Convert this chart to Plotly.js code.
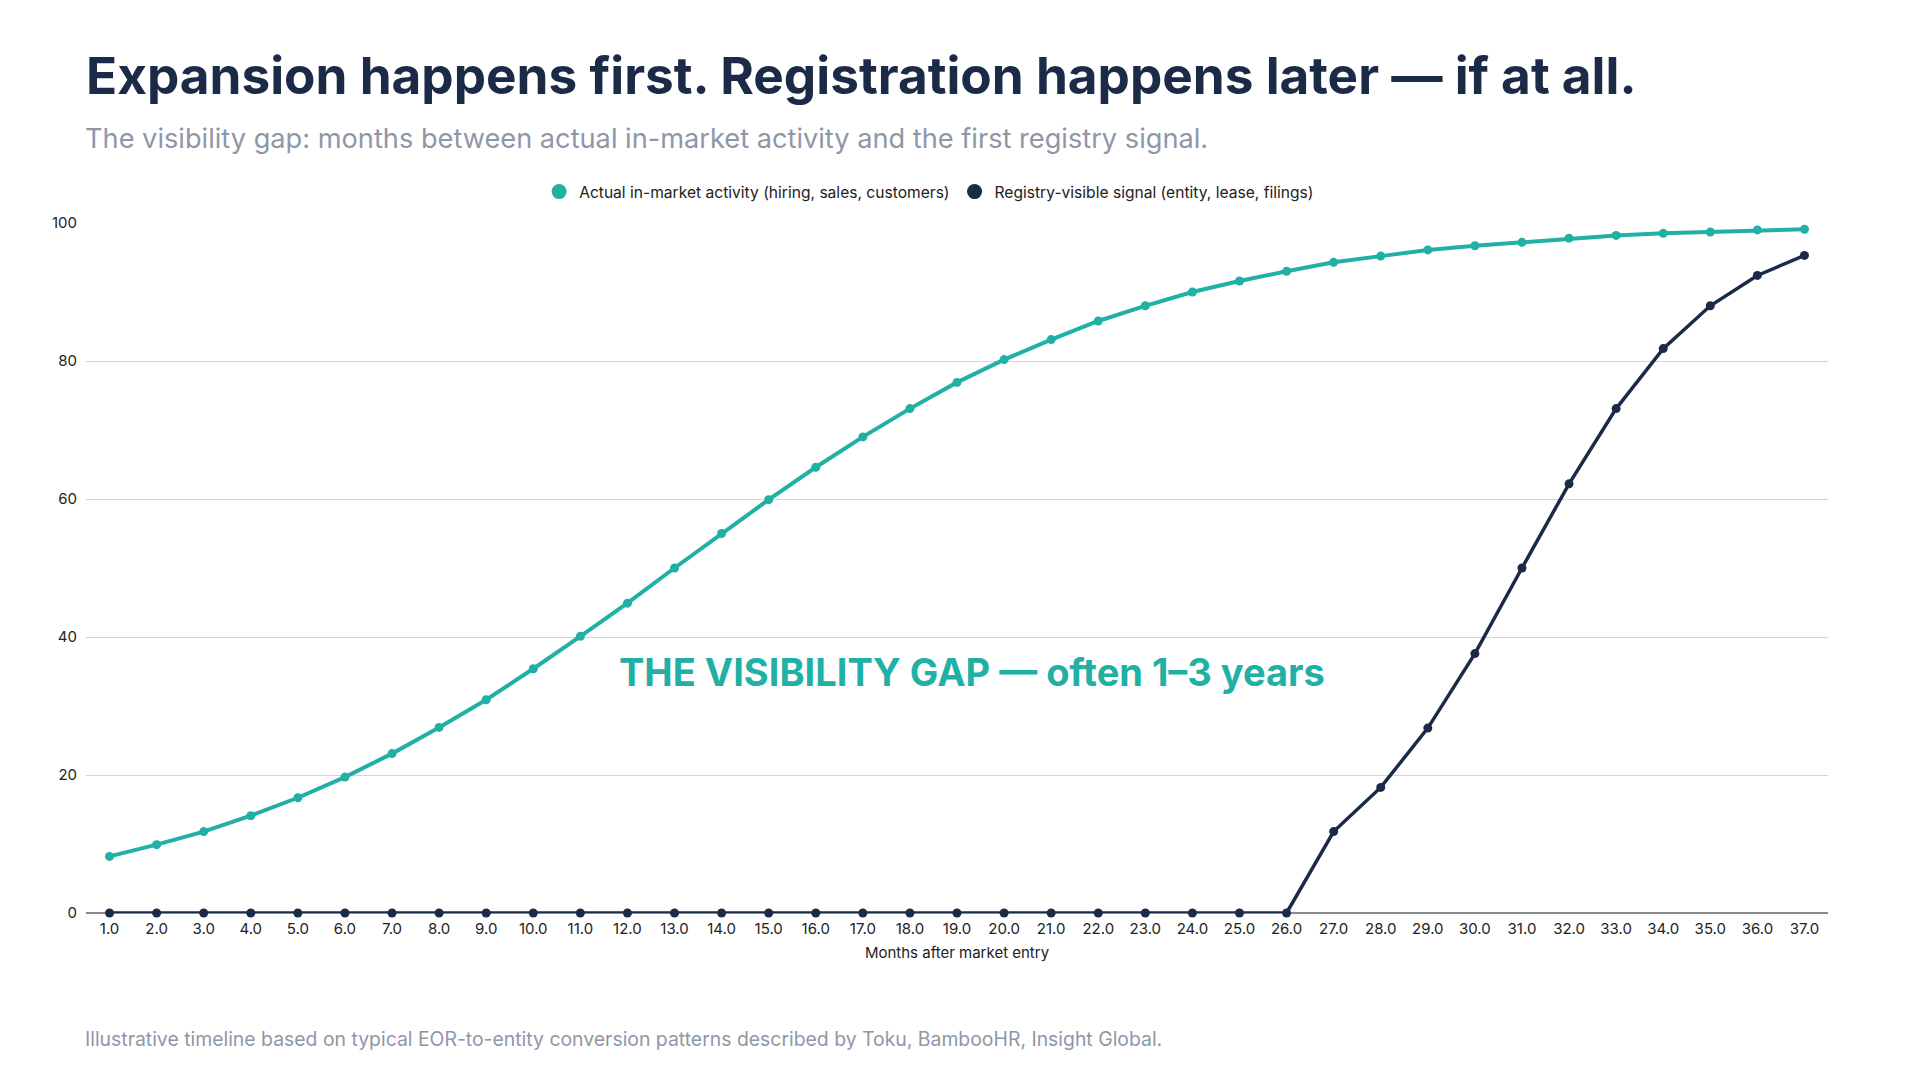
<!DOCTYPE html>
<html>
<head>
<meta charset="utf-8">
<script src="https://cdn.plot.ly/plotly-3.0.1.min.js"></script>
<style>html,body{margin:0;padding:0;background:#fff;}#chart{width:1920px;height:1080px;}</style>
</head>
<body>
<div id="chart"></div>
<script>
const months = [1,2,3,4,5,6,7,8,9,10,11,12,13,14,15,16,17,18,19,20,21,22,23,24,25,26,27,28,29,30,31,32,33,34,35,36,37];
const activity = [8.2, 9.9, 11.8, 14.1, 16.7, 19.7, 23.1, 26.9, 30.9, 35.4, 40.1, 44.9, 50.0, 55.0, 59.9, 64.6, 69.0, 73.1, 76.9, 80.2, 83.1, 85.8, 88.0, 90.0, 91.6, 93.0, 94.3, 95.2, 96.1, 96.7, 97.2, 97.8, 98.2, 98.5, 98.7, 99.0, 99.1];
const registry = [0,0,0,0,0,0,0,0,0,0,0,0,0,0,0,0,0,0,0,0,0,0,0,0,0,0, 11.8, 18.2, 26.8, 37.6, 50.0, 62.2, 73.1, 81.8, 88.0, 92.4, 95.3];
const seriesNames = ["Actual in-market activity (hiring, sales, customers)", "Registry-visible signal (entity, lease, filings)"];
const tickLabels = months.map(m => m.toFixed(1));

const TEAL = "#20b0a5";
const NAVY = "#1b2b47";
const FONT = "Inter, 'Noto Sans', sans-serif";

const traces = [
  {x: months, y: activity, type: "scatter", mode: "lines+markers", name: seriesNames[0], showlegend: false,
   line: {color: TEAL, width: 4}, marker: {color: TEAL, size: 9}, cliponaxis: false},
  {x: months, y: registry, type: "scatter", mode: "lines+markers", name: seriesNames[1], showlegend: false,
   line: {color: NAVY, width: 3.5}, marker: {color: NAVY, size: 9}, cliponaxis: false},
  {x: [null], y: [null], type: "scatter", mode: "markers", name: seriesNames[0], marker: {color: TEAL, size: 15}},
  {x: [null], y: [null], type: "scatter", mode: "markers", name: seriesNames[1], marker: {color: NAVY, size: 15}}
];

const layout = {
  width: 1920, height: 1080,
  paper_bgcolor: "#fff", plot_bgcolor: "#fff",
  margin: {l: 86, r: 92, t: 223, b: 166.5},
  font: {family: FONT, color: "#222", size: 15},
  title: {text: "Expansion happens first. Registration happens later — if at all.",
          font: {family: FONT, size: 51.3, color: NAVY, weight: 700},
          x: 86/1920, xanchor: "left", xref: "container", y: 1 - 76/1080, yanchor: "middle", yref: "container"},
  showlegend: true,
  legend: {orientation: "h", x: 0.484, xanchor: "center", y: 1.045, yanchor: "middle",
           font: {family: FONT, size: 15.6, color: "#222"}, itemwidth: 30, bgcolor: "rgba(0,0,0,0)"},
  xaxis: {type: "linear", range: [0.5, 37.5], tickmode: "array", tickvals: months, ticktext: tickLabels,
          showgrid: false, zeroline: false, showline: false, ticks: "", tickfont: {size: 15, color: "#222"},
          ticklabelstandoff: 5,
          title: {text: "Months after market entry", font: {size: 15, color: "#222"}, standoff: 10}},
  yaxis: {range: [0, 100], tickvals: [0,20,40,60,80,100], showgrid: true, gridcolor: "#d4d4d4", gridwidth: 1,
          zeroline: true, zerolinecolor: "#8a8a8a", zerolinewidth: 1.5, showline: false, ticks: "",
          tickfont: {size: 15, color: "#222"}, ticklabelstandoff: 8},
  annotations: [
    {text: "The visibility gap: months between actual in-market activity and the first registry signal.",
     xref: "paper", yref: "paper", x: 0, xshift: -3, y: 1.123, xanchor: "left", yanchor: "middle", showarrow: false,
     font: {family: FONT, size: 27.2, color: "#8e97a8"}},
    {text: "THE VISIBILITY GAP — often 1–3 years",
     xref: "paper", yref: "paper", x: 0.5086, y: 0.3497, xanchor: "center", yanchor: "middle", showarrow: false,
     font: {family: FONT, size: 38, color: TEAL, weight: 700}},
    {text: "Illustrative timeline based on typical EOR-to-entity conversion patterns described by Toku, BambooHR, Insight Global.",
     xref: "paper", yref: "paper", x: 0, xshift: -3, y: -0.183, xanchor: "left", yanchor: "middle", showarrow: false,
     font: {family: FONT, size: 19.4, color: "#8e97a8"}}
  ]
};

Plotly.newPlot("chart", traces, layout, {displayModeBar: false, responsive: false});
</script>
</body>
</html>
